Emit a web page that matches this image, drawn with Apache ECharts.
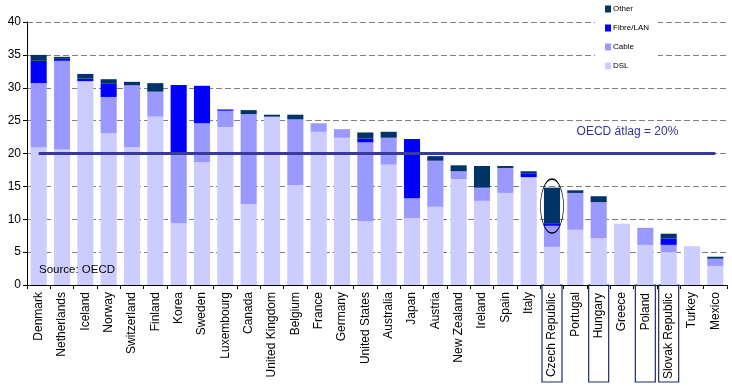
<!DOCTYPE html>
<html>
<head>
<meta charset="utf-8">
<script src="https://cdn.jsdelivr.net/npm/echarts@6/dist/echarts.min.js"></script>
<style>html,body{margin:0;padding:0;background:#fff}#c{width:732px;height:386px}</style>
</head>
<body>
<div id="c"></div>
<script>
var categories = ['Denmark','Netherlands','Iceland','Norway','Switzerland','Finland','Korea','Sweden','Luxembourg','Canada','United Kingdom','Belgium','France','Germany','United States','Australia','Japan','Austria','New Zealand','Ireland','Spain','Italy','Czech Republic','Portugal','Hungary','Greece','Poland','Slovak Republic','Turkey','Mexico'];
var dsl   = [20.9,20.6,31.0,23.1,21.0,25.6,9.4,18.7,24.0,12.3,25.6,15.2,23.3,22.4,9.7,18.3,10.2,11.9,16.1,12.8,14.0,16.4,5.8,8.4,7.1,9.3,6.1,5.0,5.9,2.9];
var cable = [9.8,13.5,0,5.5,9.4,3.8,10.6,5.9,2.5,13.7,0,10.0,1.3,1.3,12.0,4.1,3.0,7.0,1.2,2.0,3.8,0,3.2,5.6,5.5,0,2.6,1.1,0,1.1];
var fibre = [3.4,0.3,0.4,2.0,0,0,10.4,5.7,0.2,0,0,0,0,0,0.6,0,9.0,0,0,0,0,0.6,0.4,0,0,0,0,1.0,0,0];
var other = [0.9,0.3,0.7,0.7,0.5,1.3,0,0,0,0.6,0.3,0.7,0,0,0.9,0.9,0,0.7,0.9,3.3,0.3,0.3,5.4,0.4,0.9,0,0,0.7,0,0.3];
var boxed = ['Czech Republic','Hungary','Poland','Slovak Republic'];
var oecdAvg = 20;
var oecdLabel = 'OECD átlag = 20%';
var highlightCategory = 'Czech Republic';
var highlightValue = 12;
var yTicks = {min: 0, max: 40, interval: 5};

var font = 'Liberation Sans, Arial, sans-serif';
var chart = echarts.init(document.getElementById('c'), null, {renderer: 'canvas'});
function bar(name, data, color, extra) {
  var s = {name: name, type: 'bar', stack: 'total', data: data, barCategoryGap: '31%',
    itemStyle: {color: color}, emphasis: {disabled: true}, animation: false};
  if (extra) for (var k in extra) s[k] = extra[k];
  return s;
}
chart.setOption({
  animation: false,
  textStyle: {fontFamily: font},
  title: {text: 'Source: OECD', left: 34, top: 259,
    textStyle: {fontSize: 11.5, fontWeight: 'normal', color: '#000', fontFamily: font}},
  legend: {
    data: ['Other','Fibre/LAN','Cable','DSL'],
    orient: 'vertical', left: 595, top: 1,
    padding: [4, 9, 4, 10], itemGap: 11, itemWidth: 6, itemHeight: 7,
    backgroundColor: '#fff', icon: 'rect',
    textStyle: {fontSize: 8, color: '#000', fontFamily: font, padding: [0,0,0,-3]}
  },
  grid: {left: 27, right: 5, top: 22, bottom: 101, containLabel: false},
  xAxis: {
    type: 'category', data: categories,
    axisLine: {lineStyle: {color: '#000', width: 1}},
    axisTick: {show: true, interval: 0, length: 4, lineStyle: {color: '#000'}},
    axisLabel: {
      interval: 0, rotate: 90, margin: 0, fontSize: 12, color: '#000', fontFamily: font,
      formatter: function (v) { return boxed.indexOf(v) >= 0 ? '{b|' + v + '}' : '{n|' + v + '}'; },
      rich: {
        n: {fontSize: 12, color: '#000', fontFamily: font, padding: [0, 7, 0, 0], lineHeight: 14},
        b: {fontSize: 12, color: '#000', fontFamily: font, width: 85, align: 'right', lineHeight: 14,
            padding: [4, 8, 4, 4], borderColor: '#1c2a6b', borderWidth: 1.2}
      }
    }
  },
  yAxis: {
    type: 'value', min: yTicks.min, max: yTicks.max, interval: yTicks.interval,
    axisLine: {show: true, lineStyle: {color: '#000'}},
    axisTick: {show: true, length: 4, lineStyle: {color: '#000'}},
    axisLabel: {fontSize: 12, color: '#000', margin: 6, fontFamily: font},
    splitLine: {show: true, lineStyle: {color: '#808080', type: [6, 3], width: 1}}
  },
  series: [
    bar('DSL', dsl, '#ccccff'),
    bar('Cable', cable, '#9999ff'),
    bar('Fibre/LAN', fibre, '#0000ff'),
    bar('Other', other, '#003366', {
      markLine: {
        silent: true, symbol: 'none', animation: false,
        lineStyle: {color: '#3a3a9c', width: 3, type: 'solid'},
        label: {show: true, formatter: oecdLabel, position: 'insideEndTop', distance: [37, 16],
          color: '#333399', fontSize: 12, fontFamily: font},
        emphasis: {disabled: true},
        data: [[{coord: [categories[0], oecdAvg]}, {coord: [categories[categories.length - 1], oecdAvg]}]]
      },
      markPoint: {
        silent: true, animation: false,
        data: [{coord: [highlightCategory, highlightValue],
          symbol: 'path://M0,50 A50,50 0 1 1 100,50 A50,50 0 1 1 0,50 Z',
          symbolSize: [23, 54], symbolKeepAspect: false}],
        itemStyle: {color: 'rgba(0,0,0,0)', borderColor: '#000', borderWidth: 1},
        label: {show: false}
      }
    })
  ]
});
</script>
</body>
</html>
